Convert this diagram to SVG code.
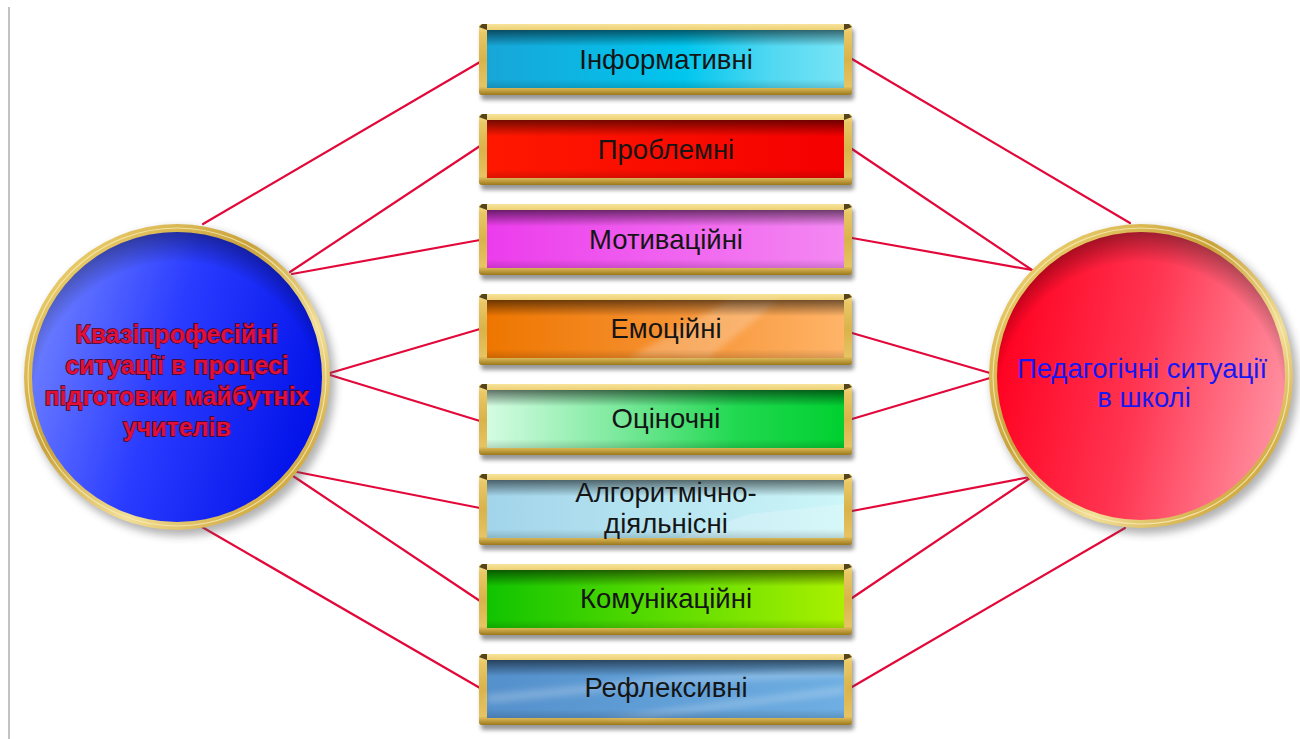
<svg xmlns="http://www.w3.org/2000/svg" width="1300" height="739" viewBox="0 0 1300 739">
<style>
.lbl{font-family:"Liberation Sans",Arial,sans-serif;font-size:27.5px;fill:#151515;text-anchor:middle}
.conn line{stroke:#e3083a;stroke-width:2.2;stroke-linecap:round}
.frame{fill:url(#gold)}
.shade{fill:url(#topShade)}
.shadow{fill:#444;opacity:0.55;filter:url(#blur)}
.gloss{fill:#fff;opacity:0.22}
.corner{fill:#3a2a08;opacity:0.85}
</style>
<defs>
<filter id="blur" x="-10%" y="-30%" width="120%" height="160%"><feGaussianBlur stdDeviation="2.2"/></filter>
<filter id="blurC" x="-10%" y="-10%" width="120%" height="120%"><feGaussianBlur stdDeviation="4"/></filter>
<filter id="blurG" x="-10%" y="-50%" width="120%" height="200%"><feGaussianBlur stdDeviation="3"/></filter>
<linearGradient id="gold" x1="0" y1="0" x2="0" y2="1">
<stop offset="0" stop-color="#f7e39a"/><stop offset="0.12" stop-color="#e9c865"/><stop offset="0.5" stop-color="#d9b24a"/><stop offset="0.88" stop-color="#e6c462"/><stop offset="1" stop-color="#9c781c"/>
</linearGradient>
<linearGradient id="goldRing" x1="0" y1="0" x2="1" y2="1">
<stop offset="0" stop-color="#6a4c08"/><stop offset="0.15" stop-color="#e6c866"/><stop offset="0.4" stop-color="#c9a23a"/><stop offset="0.65" stop-color="#f2df98"/><stop offset="0.85" stop-color="#d2ac44"/><stop offset="1" stop-color="#9a7620"/>
</linearGradient>
<linearGradient id="topShade" x1="0" y1="0" x2="0" y2="1">
<stop offset="0" stop-color="#000" stop-opacity="0.55"/><stop offset="0.28" stop-color="#000" stop-opacity="0"/><stop offset="0.85" stop-color="#000" stop-opacity="0"/><stop offset="1" stop-color="#000" stop-opacity="0.15"/>
</linearGradient>
<linearGradient id="g1" x1="0" y1="0" x2="1" y2="0"><stop offset="0" stop-color="#18a6d8"/><stop offset="0.55" stop-color="#00c6ee"/><stop offset="0.8" stop-color="#52d8f2"/><stop offset="1" stop-color="#78e4f6"/></linearGradient>
<linearGradient id="g2" x1="0" y1="0" x2="1" y2="0"><stop offset="0" stop-color="#ff1800"/><stop offset="1" stop-color="#f40000"/></linearGradient>
<linearGradient id="g3" x1="0" y1="0" x2="1" y2="0"><stop offset="0" stop-color="#ec3cec"/><stop offset="1" stop-color="#f488f2"/></linearGradient>
<linearGradient id="g4" x1="0" y1="0" x2="1" y2="0"><stop offset="0" stop-color="#ee7600"/><stop offset="0.5" stop-color="#f59030"/><stop offset="1" stop-color="#ffb468"/></linearGradient>
<linearGradient id="g5" x1="0" y1="0" x2="1" y2="0"><stop offset="0" stop-color="#d4fce2"/><stop offset="0.35" stop-color="#80eaa0"/><stop offset="0.7" stop-color="#20d850"/><stop offset="1" stop-color="#00d030"/></linearGradient>
<linearGradient id="g6" x1="0" y1="0" x2="1" y2="0"><stop offset="0" stop-color="#a2d4ea"/><stop offset="1" stop-color="#ccf6f8"/></linearGradient>
<linearGradient id="g7" x1="0" y1="0" x2="1" y2="0"><stop offset="0" stop-color="#10c400"/><stop offset="0.5" stop-color="#5cdc00"/><stop offset="1" stop-color="#aaf000"/></linearGradient>
<linearGradient id="g8" x1="0" y1="0" x2="1" y2="0"><stop offset="0" stop-color="#5490cc"/><stop offset="1" stop-color="#6eaee2"/></linearGradient>
<linearGradient id="blueFill" x1="0" y1="0.35" x2="1" y2="0.65"><stop offset="0" stop-color="#6e80ff"/><stop offset="0.45" stop-color="#2a3cff"/><stop offset="1" stop-color="#0010e8"/></linearGradient>
<linearGradient id="redFill" x1="0" y1="0.4" x2="1" y2="0.6"><stop offset="0" stop-color="#ff0020"/><stop offset="0.5" stop-color="#ff3652"/><stop offset="1" stop-color="#ff90a0"/></linearGradient>
<radialGradient id="circShade" cx="0.5" cy="0.6" r="0.62"><stop offset="0.8" stop-color="#000" stop-opacity="0"/><stop offset="1" stop-color="#000" stop-opacity="0.45"/></radialGradient>
</defs>

<line x1="9" y1="7" x2="9" y2="739" stroke="#9a9a9a" stroke-width="1.2"/>

<g class="conn" id="connectors">
<line x1="480" y1="62" x2="203" y2="224"/>
<line x1="480" y1="146" x2="290" y2="272"/>
<line x1="480" y1="240" x2="292" y2="274"/>
<line x1="480" y1="329" x2="330" y2="373"/>
<line x1="480" y1="421" x2="330" y2="375"/>
<line x1="480" y1="508" x2="297" y2="472"/>
<line x1="480" y1="601" x2="293" y2="476"/>
<line x1="480" y1="688" x2="202" y2="527"/>
<line x1="852" y1="59" x2="1130" y2="223"/>
<line x1="852" y1="149" x2="1032" y2="270"/>
<line x1="852" y1="238" x2="1032" y2="270"/>
<line x1="852" y1="333" x2="990" y2="373"/>
<line x1="852" y1="419" x2="990" y2="378"/>
<line x1="852" y1="511" x2="1030" y2="477"/>
<line x1="852" y1="598" x2="1030" y2="478"/>
<line x1="852" y1="687" x2="1125" y2="528"/>
</g>

<g id="box1" transform="translate(479,24)">
<rect class="shadow" x="2" y="5" width="373" height="71" rx="3"/>
<rect class="frame" x="0" y="0" width="373" height="71" rx="3"/>
<rect x="8" y="6" width="357" height="58" fill="url(#g1)"/>
<rect class="shade" x="8" y="6" width="357" height="58"/>
<path class="corner" d="M0,3 L3,0 L8,0 L8,6 Z M373,3 L370,0 L365,0 L365,6 Z"/>
<text class="lbl" x="187" y="45">Інформативні</text>
</g>
<g id="box2" transform="translate(479,114)">
<rect class="shadow" x="2" y="5" width="373" height="71" rx="3"/>
<rect class="frame" x="0" y="0" width="373" height="71" rx="3"/>
<rect x="8" y="6" width="357" height="58" fill="url(#g2)"/>
<rect class="shade" x="8" y="6" width="357" height="58"/>
<path class="corner" d="M0,3 L3,0 L8,0 L8,6 Z M373,3 L370,0 L365,0 L365,6 Z"/>
<text class="lbl" x="187" y="45">Проблемні</text>
</g>
<g id="box3" transform="translate(479,204)">
<rect class="shadow" x="2" y="5" width="373" height="71" rx="3"/>
<rect class="frame" x="0" y="0" width="373" height="71" rx="3"/>
<rect x="8" y="6" width="357" height="58" fill="url(#g3)"/>
<rect class="shade" x="8" y="6" width="357" height="58"/>
<path class="corner" d="M0,3 L3,0 L8,0 L8,6 Z M373,3 L370,0 L365,0 L365,6 Z"/>
<text class="lbl" x="187" y="45">Мотиваційні</text>
</g>
<g id="box4" transform="translate(479,294)">
<rect class="shadow" x="2" y="5" width="373" height="71" rx="3"/>
<rect class="frame" x="0" y="0" width="373" height="71" rx="3"/>
<rect x="8" y="6" width="357" height="58" fill="url(#g4)"/>
<polygon class="gloss" points="150,64 230,64 300,6 250,6" filter="url(#blurG)"/>
<rect class="shade" x="8" y="6" width="357" height="58"/>
<path class="corner" d="M0,3 L3,0 L8,0 L8,6 Z M373,3 L370,0 L365,0 L365,6 Z"/>
<text class="lbl" x="187" y="44">Емоційні</text>
</g>
<g id="box5" transform="translate(479,384)">
<rect class="shadow" x="2" y="5" width="373" height="71" rx="3"/>
<rect class="frame" x="0" y="0" width="373" height="71" rx="3"/>
<rect x="8" y="6" width="357" height="58" fill="url(#g5)"/>
<rect class="shade" x="8" y="6" width="357" height="58"/>
<path class="corner" d="M0,3 L3,0 L8,0 L8,6 Z M373,3 L370,0 L365,0 L365,6 Z"/>
<text class="lbl" x="187" y="44">Оціночні</text>
</g>
<g id="box6" transform="translate(479,474)">
<rect class="shadow" x="2" y="5" width="373" height="71" rx="3"/>
<rect class="frame" x="0" y="0" width="373" height="71" rx="3"/>
<rect x="8" y="6" width="357" height="58" fill="url(#g6)"/>
<polygon class="gloss" points="200,64 365,64 365,30 270,40" opacity="0.4"/>
<rect class="shade" x="8" y="6" width="357" height="58"/>
<path class="corner" d="M0,3 L3,0 L8,0 L8,6 Z M373,3 L370,0 L365,0 L365,6 Z"/>
<text class="lbl" x="187" y="28">Алгоритмічно-</text>
<text class="lbl" x="187" y="59">діяльнісні</text>
</g>
<g id="box7" transform="translate(479,564)">
<rect class="shadow" x="2" y="5" width="373" height="71" rx="3"/>
<rect class="frame" x="0" y="0" width="373" height="71" rx="3"/>
<rect x="8" y="6" width="357" height="58" fill="url(#g7)"/>
<rect class="shade" x="8" y="6" width="357" height="58"/>
<path class="corner" d="M0,3 L3,0 L8,0 L8,6 Z M373,3 L370,0 L365,0 L365,6 Z"/>
<text class="lbl" x="187" y="44">Комунікаційні</text>
</g>
<g id="box8" transform="translate(479,654)">
<rect class="shadow" x="2" y="5" width="373" height="71" rx="3"/>
<rect class="frame" x="0" y="0" width="373" height="71" rx="3"/>
<rect x="8" y="6" width="357" height="58" fill="url(#g8)"/>
<polygon class="gloss" points="8,40 8,50 200,30 365,22 365,14 200,22" filter="url(#blurG)" opacity="0.4"/>
<polygon class="gloss" points="120,64 170,64 365,40 365,32" filter="url(#blurG)" opacity="0.4"/>
<rect class="shade" x="8" y="6" width="357" height="58"/>
<path class="corner" d="M0,3 L3,0 L8,0 L8,6 Z M373,3 L370,0 L365,0 L365,6 Z"/>
<text class="lbl" x="187" y="43">Рефлексивні</text>
</g>

<g id="leftCircle">
<circle cx="181" cy="382" r="154" fill="#555" opacity="0.45" filter="url(#blurC)"/>
<circle cx="177" cy="377" r="153" fill="url(#goldRing)"/>
<circle cx="177" cy="377" r="149" fill="none" stroke="#f8ecb8" stroke-width="1.2" opacity="0.8"/>
<circle cx="177" cy="377" r="145" fill="url(#blueFill)"/>
<circle cx="177" cy="377" r="145" fill="url(#circShade)"/>
<g font-family="'Liberation Sans',Arial,sans-serif" font-weight="bold" font-size="25" fill="#e0103a" stroke="#4a0010" stroke-width="1.3" paint-order="stroke" text-anchor="middle">
<text x="177" y="343">Квазіпрофесійні</text>
<text x="177" y="374">ситуації в процесі</text>
<text x="177" y="405">підготовки майбутніх</text>
<text x="177" y="436">учителів</text>
</g>
</g>

<g id="rightCircle">
<circle cx="1145" cy="381" r="153" fill="#555" opacity="0.45" filter="url(#blurC)"/>
<circle cx="1141" cy="376" r="152" fill="url(#goldRing)"/>
<circle cx="1141" cy="376" r="148" fill="none" stroke="#f8ecb8" stroke-width="1.2" opacity="0.8"/>
<circle cx="1141" cy="376" r="144" fill="url(#redFill)"/>
<circle cx="1141" cy="376" r="144" fill="url(#circShade)"/>
<g font-family="'Liberation Sans',Arial,sans-serif" font-size="27.5" fill="#1418f5" text-anchor="middle">
<text x="1142" y="378">Педагогічні ситуації</text>
<text x="1144" y="407">в школі</text>
</g>
</g>
</svg>
